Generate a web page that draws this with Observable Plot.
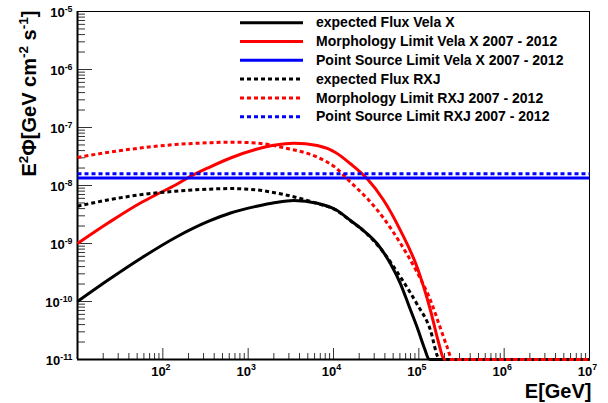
<!DOCTYPE html>
<html>
<head>
<meta charset="utf-8">
<script src="https://cdn.jsdelivr.net/npm/d3@7"></script>
<script src="https://cdn.jsdelivr.net/npm/@observablehq/plot@0.6"></script>
<style>
  html, body { margin: 0; padding: 0; background: #ffffff; }
  #chart svg { display: block; }
</style>
</head>
<body>
<div id="chart"></div>
<script>
// Spectral energy distributions: [E (GeV), E^2 Phi (GeV cm^-2 s^-1)]
const velaFlux = [
  [10, 1.0e-10], [23.3, 2.39e-10], [57.3, 5.74e-10], [140.8, 1.27e-9],
  [345.7, 2.42e-9], [621, 3.36e-9], [1219, 4.34e-9], [2091, 5.09e-9],
  [3427, 5.51e-9], [6446, 4.95e-9], [10560, 3.86e-9], [15826, 2.49e-9],
  [22470, 1.67e-9], [32540, 9.88e-10], [46570, 4.47e-10], [61000, 2.02e-10],
  [76300, 8.53e-11], [95720, 3.56e-11], [116600, 1.55e-11], [130900, 1.02e-11],
  [137100, 1e-11], [1e7, 1e-11]
];
const velaMorph = [
  [10, 1.0e-9], [23.3, 2.30e-9], [57.3, 5.19e-9], [86.6, 7.13e-9],
  [140.8, 1.02e-8], [194.6, 1.346e-8], [345.7, 2.04e-8], [621, 2.98e-8],
  [1219, 4.17e-8], [2091, 4.99e-8], [3427, 5.36e-8], [6446, 4.89e-8],
  [10560, 3.71e-8], [15826, 2.37e-8], [24840, 1.305e-8], [38870, 5.51e-9],
  [61000, 1.67e-9], [95720, 3.86e-10], [137100, 7.0e-11], [171500, 1.89e-11],
  [196300, 1.02e-11], [205000, 1e-11], [1e7, 1e-11]
];
const velaPoint = [[10, 1.345e-8], [1e7, 1.345e-8]];
const rxjFlux = [
  [10, 4.4e-9], [23.3, 5.67e-9], [57.3, 6.99e-9], [140.8, 7.97e-9],
  [345.7, 8.65e-9], [621, 8.85e-9], [1219, 8.43e-9], [2617, 6.99e-9],
  [6446, 4.9e-9], [10560, 3.8e-9], [15826, 2.46e-9], [24840, 1.45e-9],
  [38870, 6.9e-10], [61000, 2.62e-10], [95720, 8.88e-11], [137100, 3.16e-11],
  [165500, 1.13e-11], [172400, 1e-11], [1e7, 1e-11]
];
const rxjMorph = [
  [10, 3.04e-8], [23.3, 3.75e-8], [57.3, 4.47e-8], [140.8, 5.09e-8],
  [345.7, 5.45e-8], [621, 5.58e-8], [1219, 5.41e-8], [2617, 4.47e-8],
  [6446, 3.08e-8], [10560, 2.04e-8], [15826, 1.14e-8], [24840, 5.97e-9],
  [38870, 2.70e-9], [61000, 1.0e-9], [95720, 3.16e-10], [137100, 1.04e-10],
  [179600, 3.42e-11], [215100, 1.63e-11], [246200, 1e-11], [1e7, 1e-11]
];
const rxjPoint = [[10, 1.595e-8], [1e7, 1.595e-8]];

// Legend entries, in drawing order
const legendLabels = [
  "expected Flux Vela X",
  "Morphology Limit Vela X 2007 - 2012",
  "Point Source Limit Vela X 2007 - 2012",
  "expected Flux RXJ",
  "Morphology Limit RXJ 2007 - 2012",
  "Point Source Limit RXJ 2007 - 2012"
];
const legendColors = ["#000000", "#ff0000", "#0000ff", "#000000", "#ff0000", "#0000ff"];
const legendDotted = [false, false, false, true, true, true];
const seriesData = [velaFlux, velaMorph, velaPoint, rxjFlux, rxjMorph, rxjPoint];

// Axis decades
const xDecades = [1e1, 1e2, 1e3, 1e4, 1e5, 1e6];
const xLabelTicks = [1e2, 1e3, 1e4, 1e5, 1e6, 1e7];
const yDecades = [1e-11, 1e-10, 1e-9, 1e-8, 1e-7, 1e-6, 1e-5];

const xTitle = "E[GeV]";
const yTitle = "E^{2}\u03A6[GeV cm^{-2} s^{-1}]";

const W = 608, H = 403;
const M = {top: 11, right: 19, bottom: 44, left: 77};
const frameW = W - M.left - M.right;
const frameH = H - M.top - M.bottom;
const FONT = "'Liberation Sans', Arial, Helvetica, sans-serif";
const DASH = "4,3";
const tickColor = "#333";

const xMinor = xDecades.flatMap(d => [2, 3, 4, 5, 6, 7, 8, 9].map(k => k * d));
const yMinor = yDecades.slice(0, -1).flatMap(d => [2, 3, 4, 5, 6, 7, 8, 9].map(k => k * d));
const xMajorInner = xLabelTicks.slice(0, -1);
const expLabel = d => `10^{${Math.round(Math.log10(d))}}`;

const seriesMarks = seriesData.map((data, i) => Plot.line(data, {
  x: d => d[0],
  y: d => d[1],
  stroke: legendColors[i],
  strokeWidth: 3,
  strokeDasharray: legendDotted[i] ? DASH : null,
  strokeLinecap: "butt",
  curve: "monotone-x"
}));

// Legend drawn as a render-function mark
function legendMark(index, scales, values, dims) {
  const g = d3.create("svg:g")
    .attr("font-family", FONT)
    .attr("font-weight", "bold")
    .attr("font-size", 14)
    .attr("text-anchor", "start");
  const x0 = 240, x1 = 303, xt = 316, y0 = 22.7, step = 18.8;
  legendLabels.forEach((label, i) => {
    const y = y0 + i * step;
    g.append("line")
      .attr("x1", x0).attr("x2", x1).attr("y1", y).attr("y2", y)
      .attr("stroke", legendColors[i]).attr("stroke-width", 3)
      .attr("stroke-dasharray", legendDotted[i] ? DASH : null);
    g.append("text")
      .attr("x", xt).attr("y", y).attr("dy", "0.34em")
      .attr("text-anchor", "start")
      .attr("fill", "#000").text(label);
  });
  return g.node();
}

const chart = Plot.plot({
  width: W,
  height: H,
  marginTop: M.top,
  marginRight: M.right,
  marginBottom: M.bottom,
  marginLeft: M.left,
  style: {background: "#ffffff", fontFamily: FONT, color: "#000"},
  x: {type: "log", domain: [10, 1e7], axis: null},
  y: {type: "log", domain: [1e-11, 1e-5], axis: null},
  marks: [
    // inward ticks
    Plot.ruleY(yMinor, {stroke: tickColor, insetRight: frameW - 8}),
    Plot.ruleY(yDecades, {stroke: tickColor, insetRight: frameW - 15}),
    Plot.ruleX(xMinor.filter(v => v > 10), {stroke: tickColor, insetTop: frameH - 6}),
    Plot.ruleX(xMajorInner, {stroke: tickColor, insetTop: frameH - 11}),
    Plot.frame({stroke: "#000", strokeWidth: 1}),
    Plot.ruleX([10], {stroke: "#000", strokeWidth: 2}),
    Plot.ruleY([1e-11], {stroke: "#000", strokeWidth: 2}),
    ...seriesMarks,
    // tick labels
    Plot.text(yDecades, {
      y: d => d, text: expLabel, frameAnchor: "left", textAnchor: "end",
      dx: -5, dy: 1.5, fontSize: 13, fontWeight: "bold", fill: "#000"
    }),
    Plot.text(xLabelTicks, {
      x: d => d, text: expLabel, frameAnchor: "bottom", lineAnchor: "bottom",
      dx: -2, dy: 16, fontSize: 13, fontWeight: "bold", fill: "#000"
    }),
    // axis titles
    Plot.text([xTitle], {
      text: d => d, frameAnchor: "bottom-right", textAnchor: "end", lineAnchor: "bottom",
      dx: 2, dy: 38, fontSize: 20, fontWeight: "bold", fill: "#000"
    }),
    Plot.text([yTitle], {
      text: d => d, frameAnchor: "top-left", textAnchor: "end", lineAnchor: "bottom",
      rotate: -90, dx: -42, dy: -1, fontSize: 20, fontWeight: "bold", fill: "#000"
    }),
    legendMark
  ]
});

document.getElementById("chart").appendChild(chart);

// Turn "a^{b}" markup into superscript tspans
const NS = "http://www.w3.org/2000/svg";
d3.select(chart).selectAll("text").each(function () {
  const s = this.textContent;
  if (!s.includes("^{")) return;
  const fs = parseFloat(getComputedStyle(this).fontSize) || 13;
  const supSize = fs * 0.68;
  const raise = fs * 0.4;
  this.textContent = "";
  const re = /\^\{([^}]*)\}/g;
  let last = 0, m, up = false;
  const add = (str, sup) => {
    if (!str) return;
    const t = document.createElementNS(NS, "tspan");
    t.textContent = str;
    if (sup) {
      t.setAttribute("font-size", supSize);
      t.setAttribute("dy", -raise);
      up = true;
    } else if (up) {
      t.setAttribute("dy", raise);
      up = false;
    }
    this.appendChild(t);
  };
  while ((m = re.exec(s))) {
    add(s.slice(last, m.index), false);
    add(m[1], true);
    last = re.lastIndex;
  }
  add(s.slice(last), false);
});
</script>
</body>
</html>
